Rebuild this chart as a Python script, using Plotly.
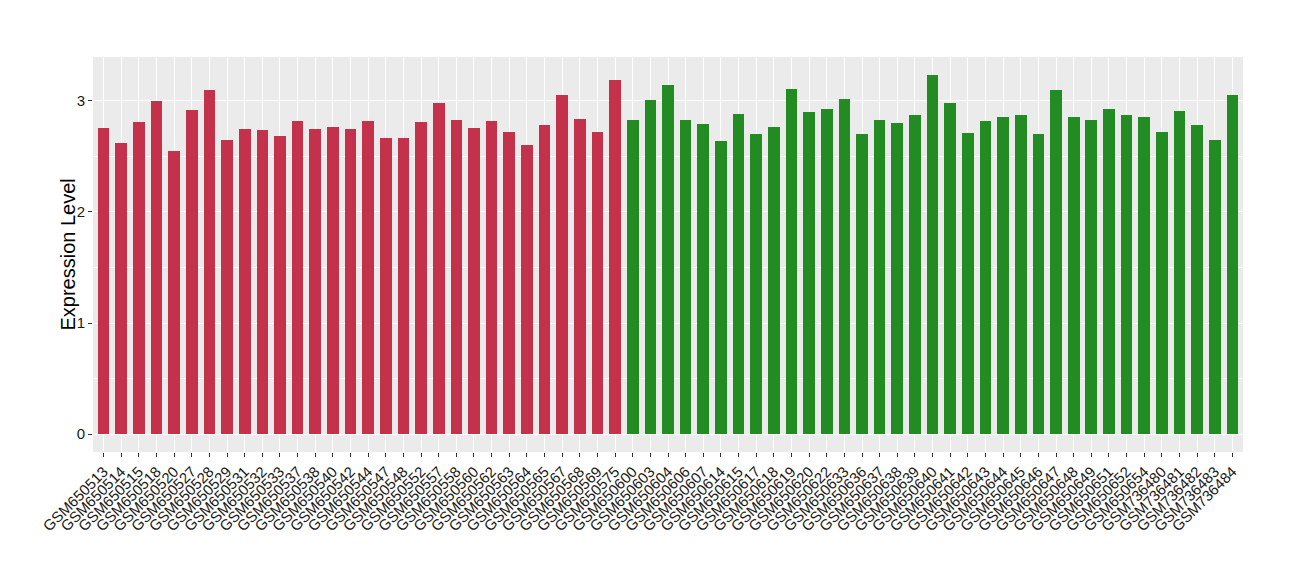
import plotly.graph_objects as go

red_samples = ["GSM650513", "GSM650514", "GSM650515", "GSM650518", "GSM650520", "GSM650527",
               "GSM650528", "GSM650529", "GSM650531", "GSM650532", "GSM650533", "GSM650537",
               "GSM650538", "GSM650540", "GSM650542", "GSM650544", "GSM650547", "GSM650548",
               "GSM650552", "GSM650557", "GSM650558", "GSM650560", "GSM650562", "GSM650563",
               "GSM650564", "GSM650565", "GSM650567", "GSM650568", "GSM650569", "GSM650575"]
red_values = [2.76, 2.62, 2.81, 3.00, 2.55, 2.92, 3.10, 2.65, 2.75, 2.74, 2.68, 2.82,
              2.75, 2.77, 2.75, 2.82, 2.67, 2.67, 2.81, 2.98, 2.83, 2.76, 2.82, 2.72,
              2.60, 2.78, 3.05, 2.84, 2.72, 3.19]

green_samples = ["GSM650600", "GSM650603", "GSM650604", "GSM650606", "GSM650607", "GSM650614",
                 "GSM650615", "GSM650617", "GSM650618", "GSM650619", "GSM650620", "GSM650622",
                 "GSM650633", "GSM650636", "GSM650637", "GSM650638", "GSM650639", "GSM650640",
                 "GSM650641", "GSM650642", "GSM650643", "GSM650644", "GSM650645", "GSM650646",
                 "GSM650647", "GSM650648", "GSM650649", "GSM650651", "GSM650652", "GSM650654",
                 "GSM736480", "GSM736481", "GSM736482", "GSM736483", "GSM736484"]
green_values = [2.83, 3.01, 3.14, 2.83, 2.79, 2.64, 2.88, 2.70, 2.77, 3.11, 2.90, 2.93,
                3.02, 2.70, 2.83, 2.80, 2.87, 3.23, 2.98, 2.71, 2.82, 2.86, 2.87, 2.70,
                3.10, 2.86, 2.83, 2.93, 2.87, 2.86, 2.72, 2.91, 2.78, 2.65, 3.05]

red_color = "#C3314A"
green_color = "#228B22"
y_ticks = [0, 1, 2, 3]
y_title = "Expression Level"

all_samples = red_samples + green_samples
pos = {s: i for i, s in enumerate(all_samples)}

fig = go.Figure()
fig.add_trace(go.Bar(x=[pos[s] for s in red_samples], y=red_values, marker_color=red_color,
                     marker_line_width=0, width=0.66, showlegend=False))
fig.add_trace(go.Bar(x=[pos[s] for s in green_samples], y=green_values, marker_color=green_color,
                     marker_line_width=0, width=0.66, showlegend=False))

font_family = "Liberation Sans, Arial, sans-serif"
# page body adds an 8px offset, margins compensate for it
L, R, T, B = 85, 65, 49, 136
fig.update_layout(
    width=1300, height=580,
    margin=dict(l=L, r=R, t=T, b=B, autoexpand=False),
    paper_bgcolor="white", plot_bgcolor="#EBEBEB",
    font=dict(family=font_family, color="#1a1a1a"),
    bargap=0,
    xaxis=dict(
        tickmode="array", tickvals=list(range(len(all_samples))), ticktext=all_samples,
        tickangle=-45, range=[-0.6, len(all_samples) - 0.4], automargin=False,
        showgrid=True, gridcolor="white", gridwidth=1.1,
        ticks="outside", ticklen=4, tickcolor="#333333", tickwidth=1,
        tickfont=dict(size=15, color="#1a1a1a"), zeroline=False, showline=False,
    ),
    yaxis=dict(
        tickmode="array", tickvals=y_ticks, range=[-0.162, 3.396], automargin=False,
        showgrid=True, gridcolor="white", gridwidth=1.1,
        minor=dict(tickvals=[0.5, 1.5, 2.5], showgrid=True, gridcolor="white", gridwidth=0.5),
        ticks="outside", ticklen=4, tickcolor="#333333", tickwidth=1,
        tickfont=dict(size=15, color="#1a1a1a"), zeroline=False, showline=False,
    ),
    annotations=[dict(text=y_title, xref="paper", yref="paper",
                      x=(59 - L) / (1300 - L - R), y=0.5, textangle=-90, showarrow=False,
                      xanchor="center", yanchor="middle",
                      font=dict(size=20, color="black", family=font_family))],
)

fig.write_html("out.html")
